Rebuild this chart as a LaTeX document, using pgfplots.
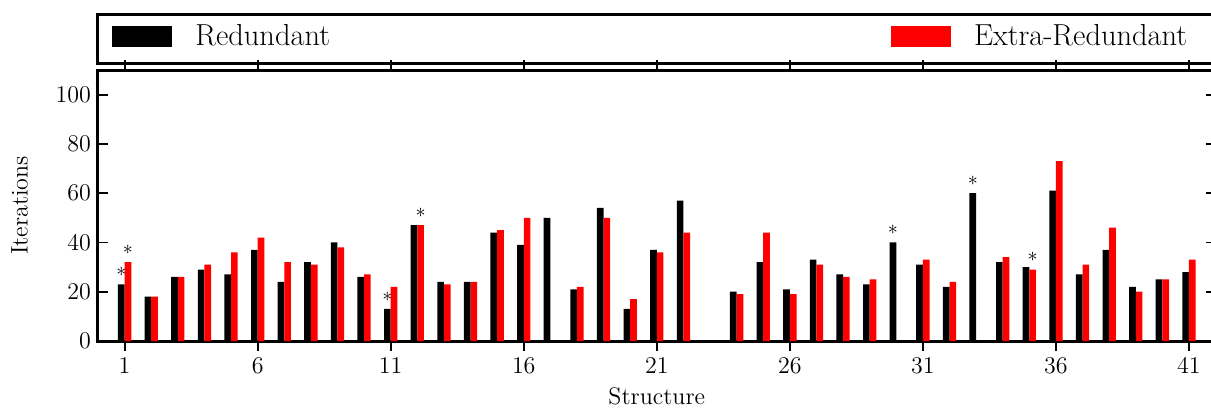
\documentclass[border=0pt]{standalone}
\usepackage{pgfplots}
\pgfplotsset{compat=1.18}

\definecolor{barred}{RGB}{255,0,0}

\begin{document}
\begin{tikzpicture}
\begin{axis}[
  scale only axis, width=558.8pt, height=135.5pt,
  xmin=0, xmax=42, ymin=0, ymax=110,
  xtick={1,6,...,41}, ytick={0,20,...,100},
  ybar, bar width=0.25,
  axis line style={line width=1.5pt},
  major tick length=5pt,
  tick style={line width=0.9pt, black},
  tick label style={font=\fontsize{12}{14}\selectfont},
  label style={font=\fontsize{12}{14}\selectfont},
  xlabel={Structure}, ylabel={Iterations},
  xlabel style={yshift=0pt},
  ylabel style={yshift=7pt},
  legend columns=2,
  legend style={draw=none, fill=none, at={(axis description cs:0,1)}, anchor=west,
    xshift=4pt, yshift=16.7pt, font=\fontsize{15.2}{18}\selectfont,
    /tikz/every odd column/.append style={column sep=9.5pt},
    /tikz/every even column/.append style={column sep=278.5pt},
    cells={anchor=west}},
  clip=false,
]
\addplot[fill=black, draw=none, bar shift=-0.125,
  legend image code/.code={\fill[black] (0pt,-5.25pt) rectangle (30pt,5.25pt);}]
coordinates {(1,23) (2,18) (3,26) (4,29) (5,27) (6,37) (7,24) (8,32) (9,40) (10,26)
 (11,13) (12,47) (13,24) (14,24) (15,44) (16,39) (17,50) (18,21) (19,54) (20,13)
 (21,37) (22,57) (24,20) (25,32) (26,21) (27,33) (28,27) (29,23) (30,40)
 (31,31) (32,22) (33,60) (34,32) (35,30) (36,61) (37,27) (38,37) (39,22) (40,25) (41,28)};
\addlegendentry{Redundant}
\addplot[fill=barred, draw=none, bar shift=0.125,
  legend image code/.code={\fill[barred] (0pt,-5.25pt) rectangle (30pt,5.25pt);}]
coordinates {(1,32) (2,18) (3,26) (4,31) (5,36) (6,42) (7,32) (8,31) (9,38) (10,27)
 (11,22) (12,47) (13,23) (14,24) (15,45) (16,50) (18,22) (19,50) (20,17)
 (21,36) (22,44) (24,19) (25,44) (26,19) (27,31) (28,26) (29,25)
 (31,33) (32,24) (34,34) (35,29) (36,73) (37,31) (38,46) (39,20) (40,25) (41,33)};
\addlegendentry{Extra-Redundant}
\addplot[only marks, mark=text, text mark={$\ast$}, black!85, forget plot]
coordinates {(0.875,28) (1.125,37) (10.875,18) (12.125,52) (29.875,45) (32.875,65) (35.125,34)};
\end{axis}
\draw[line width=1.5pt] ([yshift=3.5pt]current axis.north west) rectangle ([yshift=28pt,xshift=5pt]current axis.north east);
\pgfresetboundingbox
\path (current axis.south west) ++(-49pt,-34pt) rectangle ++(605.5pt,204.5pt);
\end{tikzpicture}
\end{document}
